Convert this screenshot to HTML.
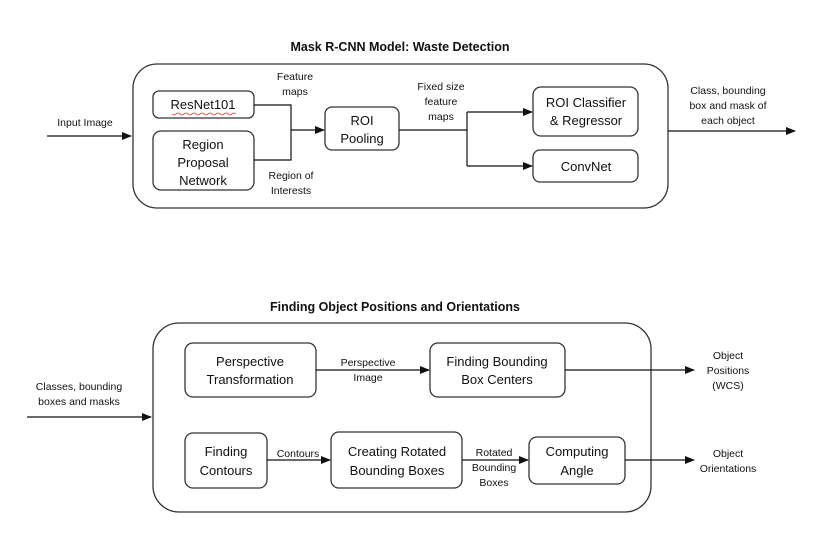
<!DOCTYPE html>
<html><head><style>
body{margin:0;background:#fff;}
svg{display:block;font-family:"Liberation Sans",sans-serif;}
.b{fill:#fff;stroke:#333;stroke-width:1.3;}
.l{stroke:#111;stroke-width:1.2;fill:none;}
.t{font-size:13px;fill:#111;text-anchor:middle;}
.s{font-size:10.5px;fill:#111;text-anchor:middle;}
.h{font-size:12.5px;font-weight:bold;fill:#111;text-anchor:middle;}
</style></head><body>
<svg width="829" height="555" viewBox="0 0 829 555">
<defs><marker id="a" markerWidth="10" markerHeight="8" refX="9" refY="4" orient="auto" markerUnits="userSpaceOnUse"><path d="M0,0 L10,4 L0,8 z" fill="#111"/></marker></defs>
<text class="h" x="400" y="51">Mask R-CNN Model: Waste Detection</text>
<rect class="b" x="133" y="64" width="535" height="144" rx="24"/>
<rect class="b" x="153" y="91" width="101" height="27" rx="6"/>
<text class="t" x="203" y="109">ResNet101</text>
<path d="M172,114 q2,2 4,0 t4,0 t4,0 t4,0 t4,0 t4,0 t4,0 t4,0 t4,0 t4,0 t4,0 t4,0 t4,0 t4,0 t4,0 t4,0" stroke="#d33" stroke-width="0.8" fill="none"/>
<rect class="b" x="153" y="131" width="101" height="59" rx="8"/>
<text class="t" x="203" y="149">Region</text>
<text class="t" x="203" y="167">Proposal</text>
<text class="t" x="203" y="185">Network</text>
<path class="l" d="M254,105 H291 V160 H254"/>
<path class="l" d="M291,130 H324" marker-end="url(#a)"/>
<text class="s" x="295" y="80">Feature</text>
<text class="s" x="295" y="95">maps</text>
<text class="s" x="291" y="179">Region of</text>
<text class="s" x="291" y="194">Interests</text>
<rect class="b" x="325" y="107" width="74" height="43" rx="7"/>
<text class="t" x="362" y="125">ROI</text>
<text class="t" x="362" y="143">Pooling</text>
<path class="l" d="M399,130 H467 M467,112 V166"/>
<path class="l" d="M467,112 H532" marker-end="url(#a)"/>
<path class="l" d="M467,166 H532" marker-end="url(#a)"/>
<text class="s" x="441" y="90">Fixed size</text>
<text class="s" x="441" y="105">feature</text>
<text class="s" x="441" y="120">maps</text>
<rect class="b" x="533" y="87" width="105" height="49" rx="8"/>
<text class="t" x="586" y="107">ROI Classifier</text>
<text class="t" x="586" y="125">&amp; Regressor</text>
<rect class="b" x="533" y="150" width="105" height="32" rx="7"/>
<text class="t" x="586" y="171">ConvNet</text>
<path class="l" d="M47,136 H131" marker-end="url(#a)"/>
<text class="s" x="85" y="126">Input Image</text>
<path class="l" d="M668,131 H795" marker-end="url(#a)"/>
<text class="s" x="728" y="94">Class, bounding</text>
<text class="s" x="728" y="109">box and mask of</text>
<text class="s" x="728" y="124">each object</text>

<text class="h" x="395" y="311">Finding Object Positions and Orientations</text>
<rect class="b" x="153" y="323" width="498" height="189" rx="26"/>
<rect class="b" x="185" y="343" width="131" height="54" rx="8"/>
<text class="t" x="250" y="366">Perspective</text>
<text class="t" x="250" y="384">Transformation</text>
<path class="l" d="M316,370 H429" marker-end="url(#a)"/>
<text class="s" x="368" y="366">Perspective</text>
<text class="s" x="368" y="381">Image</text>
<rect class="b" x="430" y="343" width="135" height="54" rx="8"/>
<text class="t" x="497" y="366">Finding Bounding</text>
<text class="t" x="497" y="384">Box Centers</text>
<rect class="b" x="185" y="433" width="82" height="55" rx="8"/>
<text class="t" x="226" y="456">Finding</text>
<text class="t" x="226" y="475">Contours</text>
<path class="l" d="M267,460 H330" marker-end="url(#a)"/>
<text class="s" x="298" y="457">Contours</text>
<rect class="b" x="331" y="432" width="131" height="56" rx="8"/>
<text class="t" x="397" y="456">Creating Rotated</text>
<text class="t" x="397" y="475">Bounding Boxes</text>
<path class="l" d="M462,460 H528" marker-end="url(#a)"/>
<text class="s" x="494" y="456">Rotated</text>
<text class="s" x="494" y="471">Bounding</text>
<text class="s" x="494" y="486">Boxes</text>
<rect class="b" x="529" y="437" width="96" height="47" rx="8"/>
<text class="t" x="577" y="456">Computing</text>
<text class="t" x="577" y="475">Angle</text>
<path class="l" d="M565,370 H694" marker-end="url(#a)"/>
<path class="l" d="M625,460 H694" marker-end="url(#a)"/>
<text class="s" x="728" y="359">Object</text>
<text class="s" x="728" y="374">Positions</text>
<text class="s" x="728" y="389">(WCS)</text>
<text class="s" x="728" y="457">Object</text>
<text class="s" x="728" y="472">Orientations</text>
<path class="l" d="M27,417 H151" marker-end="url(#a)"/>
<text class="s" x="79" y="390">Classes, bounding</text>
<text class="s" x="79" y="405">boxes and masks</text>
</svg>
</body></html>
